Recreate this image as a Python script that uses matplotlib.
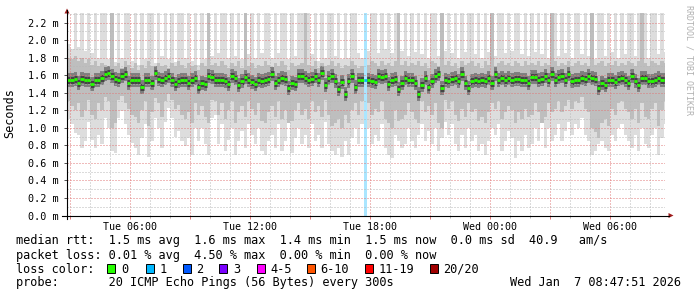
import matplotlib
matplotlib.use('Agg')
import matplotlib.pyplot as plt
from matplotlib.patches import Rectangle, Polygon
from matplotlib.lines import Line2D
import numpy as np

W, H = 697, 297
plt.rcParams['font.family'] = 'DejaVu Sans Mono'

# 10 minute columns, time in hours counted from Tue 03:00
col_start = -1 / 6
col_width = 1 / 6

# median rtt per column (ms)
median = [1.55, 1.54, 1.56, 1.51, 1.56, 1.55, 1.54, 1.50, 1.54, 1.55,
          1.57, 1.61, 1.63, 1.59, 1.56, 1.55, 1.59, 1.61, 1.51, 1.55,
          1.55, 1.54, 1.47, 1.55, 1.54, 1.51, 1.63, 1.56, 1.55, 1.57,
          1.59, 1.55, 1.50, 1.53, 1.55, 1.54, 1.51, 1.54, 1.57, 1.47,
          1.51, 1.50, 1.59, 1.58, 1.55, 1.55, 1.54, 1.53, 1.50, 1.59,
          1.57, 1.49, 1.53, 1.58, 1.55, 1.52, 1.50, 1.54, 1.53, 1.55,
          1.56, 1.61, 1.51, 1.55, 1.57, 1.56, 1.45, 1.51, 1.50, 1.59,
          1.59, 1.57, 1.55, 1.56, 1.59, 1.54, 1.63, 1.49, 1.57, 1.59,
          1.53, 1.44, 1.52, 1.39, 1.53, 1.59, 1.47, 1.55, 1.55, 1.54,
          1.55, 1.53, 1.52, 1.59, 1.58, 1.59, 1.50, 1.55, 1.56, 1.44,
          1.51, 1.57, 1.55, 1.54, 1.51, 1.38, 1.49, 1.57, 1.47, 1.53,
          1.59, 1.61, 1.45, 1.55, 1.53, 1.56, 1.57, 1.53, 1.61, 1.51,
          1.45, 1.53, 1.55, 1.53, 1.55, 1.53, 1.57, 1.51, 1.61, 1.55,
          1.57, 1.55, 1.57, 1.55, 1.56, 1.56, 1.55, 1.54, 1.51, 1.58,
          1.58, 1.55, 1.56, 1.59, 1.55, 1.61, 1.55, 1.58, 1.59, 1.55,
          1.61, 1.53, 1.55, 1.55, 1.57, 1.56, 1.59, 1.57, 1.56, 1.45,
          1.51, 1.49, 1.55, 1.55, 1.52, 1.56, 1.57, 1.55, 1.51, 1.59,
          1.53, 1.49, 1.57, 1.57, 1.53, 1.53, 1.55, 1.57, 1.55, 1.55]

# fastest ping per column (ms)
ping_min = [1.10, 1.04, 0.94, 0.92, 0.77, 0.85, 1.07, 0.86, 0.77, 0.92,
            0.81, 1.11, 1.00, 0.73, 0.71, 1.11, 1.19, 1.04, 0.92, 0.83,
            0.77, 0.69, 0.88, 1.04, 0.67, 0.85, 1.11, 1.00, 0.77, 1.07,
            1.23, 1.11, 0.90, 0.96, 0.85, 0.79, 0.88, 0.69, 1.00, 0.85,
            1.00, 0.81, 0.69, 1.11, 1.15, 0.81, 1.04, 0.73, 0.86, 1.00,
            0.69, 0.85, 0.96, 0.77, 1.04, 0.92, 0.81, 1.00, 0.73, 0.69,
            0.85, 0.92, 0.77, 1.04, 0.73, 0.85, 1.11, 0.71, 0.88, 1.00,
            0.81, 0.92, 0.77, 1.04, 0.85, 0.92, 0.77, 1.07, 0.81, 0.73,
            0.69, 0.77, 0.67, 0.85, 0.69, 0.88, 1.00, 0.81, 1.04, 0.90,
            1.00, 0.81, 0.92, 0.85, 1.04, 0.77, 0.69, 0.66, 0.92, 0.85,
            0.77, 0.81, 1.00, 0.85, 0.77, 0.92, 1.04, 0.85, 0.96, 0.81,
            1.00, 0.73, 0.88, 1.07, 0.92, 1.04, 0.81, 0.73, 0.92, 0.77,
            1.00, 0.85, 0.92, 0.73, 0.81, 0.69, 0.85, 1.00, 0.92, 1.04,
            0.73, 0.85, 0.96, 0.88, 0.66, 0.85, 0.73, 0.92, 0.77, 0.81,
            1.00, 0.85, 1.07, 0.77, 1.00, 0.85, 0.92, 1.04, 0.85, 0.96,
            1.07, 0.92, 1.04, 1.00, 1.11, 0.92, 0.85, 0.69, 0.73, 0.81,
            0.85, 0.77, 0.73, 0.92, 0.85, 1.00, 1.04, 0.92, 0.85, 0.77,
            0.92, 0.73, 1.00, 0.81, 0.77, 0.92, 1.00, 0.69, 0.88, 1.04]

# slowest ping per column (ms), 2.5 = off the top of the graph
ping_max = [1.95, 1.90, 2.5, 1.92, 2.5, 1.88, 2.5, 1.85, 2.5, 1.80,
            2.5, 2.5, 1.78, 2.5, 1.75, 2.5, 1.80, 2.5, 2.5, 1.76,
            2.5, 1.72, 2.5, 1.78, 2.5, 2.5, 1.74, 2.5, 1.82, 2.5,
            1.78, 2.5, 1.75, 2.5, 2.5, 1.80, 2.5, 1.76, 2.5, 1.72,
            2.5, 1.78, 2.5, 1.82, 2.5, 1.85, 2.5, 2.5, 1.80, 2.5,
            1.82, 2.5, 1.78, 2.5, 1.84, 2.5, 1.80, 2.5, 1.85, 2.5,
            2.5, 1.80, 2.5, 1.85, 2.5, 2.5, 1.78, 2.5, 1.82, 2.5,
            2.5, 1.80, 2.5, 1.84, 2.5, 1.76, 2.5, 1.80, 2.5, 2.5,
            1.82, 2.5, 1.78, 2.5, 1.80, 2.5, 2.5, 1.85, 1.80, 2.5,
            1.88, 2.5, 2.5, 1.85, 2.5, 1.90, 2.5, 1.85, 2.5, 2.5,
            1.88, 2.5, 1.82, 2.5, 1.86, 2.5, 1.84, 2.5, 1.80, 2.5,
            2.5, 1.82, 2.5, 1.88, 2.5, 1.85, 2.5, 1.80, 2.5, 1.86,
            2.5, 2.5, 1.84, 2.5, 1.80, 2.5, 1.86, 2.5, 1.82, 2.5,
            2.5, 1.85, 2.5, 1.88, 2.5, 2.5, 1.84, 2.5, 1.82, 2.5,
            1.86, 2.5, 1.84, 2.5, 1.80, 2.5, 2.5, 1.82, 2.5, 1.85,
            2.5, 1.80, 2.5, 2.5, 1.84, 2.5, 1.82, 2.5, 1.78, 2.5,
            2.5, 1.82, 2.5, 1.86, 2.5, 1.80, 2.5, 1.84, 2.5, 2.5,
            1.82, 2.5, 1.85, 2.5, 1.80, 2.5, 2.5, 1.84, 2.5, 1.86]

# inner smoke band (ms)
inner_low = [1.30, 1.25, 1.20, 1.28, 1.12, 1.20, 1.32, 1.15, 1.10, 1.28,
             1.20, 1.35, 1.30, 1.00, 1.05, 1.32, 1.36, 1.28, 1.22, 1.15,
             1.12, 1.05, 1.20, 1.30, 1.02, 1.18, 1.34, 1.28, 1.12, 1.30,
             1.38, 1.32, 1.22, 1.26, 1.15, 1.10, 1.18, 1.05, 1.28, 1.15,
             1.25, 1.12, 1.05, 1.32, 1.30, 1.15, 1.28, 1.10, 1.20, 1.30,
             1.05, 1.18, 1.25, 1.12, 1.30, 1.22, 1.15, 1.28, 1.08, 1.05,
             1.18, 1.25, 1.12, 1.30, 1.10, 1.20, 1.05, 1.08, 1.20, 1.28,
             1.15, 1.22, 1.10, 1.30, 1.18, 1.25, 1.12, 1.32, 1.15, 1.02,
             1.05, 1.10, 1.00, 1.15, 1.05, 1.20, 1.28, 1.15, 1.30, 1.22,
             1.28, 1.15, 1.22, 1.18, 1.30, 1.10, 1.05, 1.00, 1.20, 1.08,
             1.10, 1.15, 1.28, 1.18, 1.10, 1.05, 1.30, 1.18, 1.25, 1.15,
             1.28, 1.05, 1.00, 1.32, 1.22, 1.30, 1.15, 1.08, 1.22, 1.12,
             1.28, 1.18, 1.22, 1.08, 1.12, 1.05, 1.18, 1.28, 1.22, 1.30,
             1.10, 1.18, 1.25, 1.20, 1.05, 1.18, 1.10, 1.22, 1.12, 1.15,
             1.28, 1.18, 1.05, 1.12, 1.28, 1.18, 1.22, 1.30, 1.18, 1.25,
             1.32, 1.22, 1.30, 1.28, 1.35, 1.22, 1.18, 1.00, 0.95, 0.88,
             1.05, 1.10, 1.02, 1.22, 1.15, 1.28, 1.30, 1.22, 1.18, 1.10,
             1.22, 1.05, 1.28, 1.12, 1.10, 1.22, 1.28, 1.02, 1.20, 1.30]

inner_high = [1.80, 1.78, 1.82, 1.76, 1.80, 1.74, 1.78, 1.72, 1.76, 1.70,
              1.74, 1.72, 1.70, 2.5, 1.70, 1.74, 1.68, 1.76, 1.72, 1.68,
              1.74, 1.66, 1.72, 1.68, 1.76, 1.70, 1.68, 1.74, 1.70, 1.72,
              1.68, 1.74, 1.70, 1.76, 1.72, 1.68, 1.74, 1.70, 1.72, 1.66,
              1.74, 1.70, 2.5, 1.72, 1.74, 1.70, 1.76, 1.72, 1.68, 1.74,
              1.70, 1.76, 1.68, 2.5, 1.70, 1.74, 1.68, 1.72, 1.70, 1.76,
              1.72, 1.68, 1.74, 1.70, 1.76, 1.72, 1.66, 1.74, 1.70, 1.72,
              1.74, 2.5, 1.72, 1.70, 1.76, 1.68, 1.74, 1.70, 1.72, 1.76,
              1.70, 1.74, 1.68, 1.72, 1.70, 1.76, 1.72, 1.68, 1.70, 1.74,
              1.72, 1.76, 1.74, 1.70, 1.76, 1.72, 1.74, 1.70, 1.76, 2.5,
              1.72, 1.76, 1.70, 1.74, 1.72, 1.76, 1.70, 1.74, 1.68, 1.76,
              1.74, 1.70, 2.5, 1.72, 1.76, 1.70, 1.74, 1.68, 1.76, 1.72,
              1.74, 1.76, 1.70, 1.74, 1.68, 1.76, 1.72, 2.5, 1.70, 1.74,
              1.76, 1.72, 1.74, 1.70, 1.76, 1.74, 1.70, 1.76, 1.72, 1.74,
              1.72, 1.76, 1.70, 1.74, 1.72, 2.5, 1.76, 1.70, 1.74, 1.72,
              1.76, 1.70, 1.74, 1.76, 1.72, 1.74, 1.70, 2.5, 1.72, 1.74,
              1.76, 1.70, 1.74, 1.72, 1.76, 1.70, 1.74, 1.72, 1.76, 1.74,
              1.70, 1.76, 2.5, 1.74, 1.70, 1.76, 1.74, 1.72, 1.76, 1.74]

# columns with lost pings
loss_cols = [89]
loss_counts = [1]

loss_colors = ['#26ff00', '#00b8ff', '#0059ff', '#7a00ff', '#ff00ff', '#ff5500', '#ff0000', '#a00000']
loss_labels = ['0', '1', '2', '3', '4-5', '6-10', '11-19', '20/20']

x_tick_hours = [3, 9, 15, 21, 27]
x_tick_labels = ['Tue 06:00', 'Tue 12:00', 'Tue 18:00', 'Wed 00:00', 'Wed 06:00']
y_ticks = [0.0, 0.2, 0.4, 0.6, 0.8, 1.0, 1.2, 1.4, 1.6, 1.8, 2.0, 2.2]

legend_rtt = 'median rtt:  1.5 ms avg  1.6 ms max  1.4 ms min  1.5 ms now  0.0 ms sd  40.9   am/s'
legend_loss = 'packet loss: 0.01 % avg  4.50 % max  0.00 % min  0.00 % now'
legend_probe = 'probe:       20 ICMP Echo Pings (56 Bytes) every 300s'
stamp = 'Wed Jan  7 08:47:51 2026'

median = np.array(median)
ping_min = np.array(ping_min)
ping_max = np.array(ping_max)
inner_low = np.array(inner_low)
inner_high = np.array(inner_high)
t = col_start + np.arange(len(median)) * col_width


def fx(x):
    return x / W


def fy(y):
    return 1 - y / H


fig = plt.figure(figsize=(W / 100, H / 100), dpi=100)
x_end = 29.75
y_top = 2.31
px_per_ms = 87.7
ax = fig.add_axes([fx(67), fy(215.5), (x_end - col_start) * 20 / W, y_top * px_per_ms / H])
ax.set_xlim(col_start, x_end)
ax.set_ylim(0, y_top)

# smoke
ax.bar(t, ping_max - ping_min, bottom=ping_min, width=col_width, align='edge', color='#dddddd', lw=0, zorder=1)
ax.bar(t, inner_high - inner_low, bottom=inner_low, width=col_width, align='edge', color='#bebebe', lw=0, zorder=1.1)
ax.hlines(median, t, t + col_width, colors='#7e7e7e', lw=10, zorder=1.2)
ax.hlines(median, t, t + col_width, colors='#444444', lw=5, zorder=1.3)

# loss background
for c, n in zip(loss_cols, loss_counts):
    ax.axvspan(t[c], t[c] + col_width, color='#aae6ff', lw=0, zorder=1.5)

# median, coloured by loss
med_colors = [loss_colors[0]] * len(median)
for c, n in zip(loss_cols, loss_counts):
    med_colors[c] = loss_colors[n]
ax.hlines(median, t, t + col_width, colors=med_colors, lw=2.0, zorder=3)

# grid
ax.set_xticks(np.arange(0, 30, 3))
ax.set_xticks(np.arange(0, 30, 1), minor=True)
ax.set_xticklabels([x_tick_labels[x_tick_hours.index(h)] if h in x_tick_hours else '' for h in range(0, 30, 3)])
ax.set_yticks(y_ticks)
ax.set_yticks(np.arange(0, 2.31, 0.1), minor=True)
ax.set_yticklabels(['%.1f m' % v for v in y_ticks])
ax.set_axisbelow(False)
ax.grid(which='minor', color='#b8b8b8', ls=(0, (1, 2)), lw=0.72, zorder=2)
ax.grid(which='major', color='#e07878', ls=(0, (1, 2)), lw=0.72, zorder=2.1)
ax.tick_params(axis='y', which='major', length=2.2, width=0.72, color='#555555', labelsize=7.3, pad=3.5)
ax.tick_params(axis='y', which='minor', length=0)
ax.tick_params(axis='x', which='major', length=2.2, width=0.72, color='#e07878', labelsize=7.2, pad=2.5)
ax.tick_params(axis='x', which='minor', length=1.5, width=0.72, color='#b8b8b8')
for s in ax.spines.values():
    s.set_visible(False)

# axes with arrows
fig.add_artist(Line2D([fx(67), fx(67)], [fy(219), fy(10)], color='black', lw=0.8))
fig.add_artist(Line2D([fx(62), fx(669)], [fy(215.5), fy(215.5)], color='black', lw=0.8))
fig.add_artist(Polygon([[fx(64.5), fy(13.5)], [fx(69.5), fy(13.5)], [fx(67), fy(8.5)]], closed=True, color='#a01c1c', lw=0))
fig.add_artist(Polygon([[fx(668.5), fy(213)], [fx(668.5), fy(218)], [fx(673.5), fy(215.5)]], closed=True, color='#a01c1c', lw=0))

fig.text(fx(10), fy(113.5), 'Seconds', rotation=90, ha='center', va='center', fontsize=8.5)
fig.text(fx(688.5), fy(60), 'RRDTOOL / TOBI OETIKER', rotation=270, ha='center', va='center', fontsize=6, color='#b0b0b0')

# legend
fs = 8.55
fig.text(fx(16), fy(244.3), legend_rtt, ha='left', va='baseline', fontsize=fs)
fig.text(fx(16), fy(259), legend_loss, ha='left', va='baseline', fontsize=fs)
fig.text(fx(16), fy(272.7), 'loss color:', ha='left', va='baseline', fontsize=fs)
box_x = [107.3, 145.7, 182.7, 219.3, 256.7, 306.7, 365, 430]
for bx, col, lab in zip(box_x, loss_colors, loss_labels):
    fig.add_artist(Rectangle((fx(bx), fy(272.7)), 8 / W, 8.5 / H, facecolor=col, edgecolor='black', lw=0.7))
    fig.text(fx(bx + 13.5), fy(272.7), lab, ha='left', va='baseline', fontsize=fs)
fig.text(fx(16), fy(286), legend_probe, ha='left', va='baseline', fontsize=fs)
fig.text(fx(681), fy(286), stamp, ha='right', va='baseline', fontsize=fs)

fig.savefig('out.png', dpi=100)
